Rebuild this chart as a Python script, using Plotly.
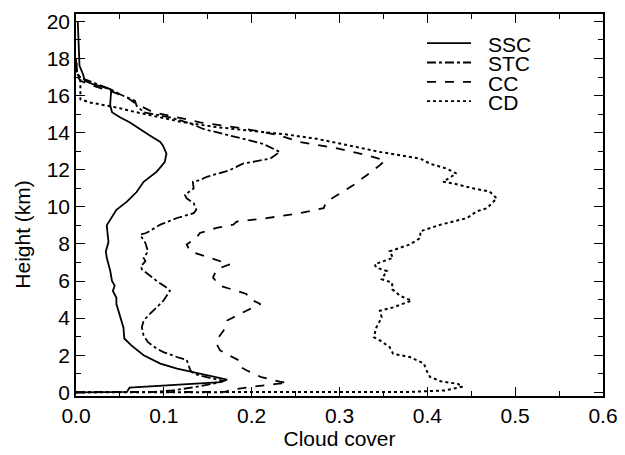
import plotly.graph_objects as go

# ---------------- data ----------------
ssc_h = [0.0, 0.02, 0.25, 0.4, 0.55, 0.68, 0.85, 0.98, 1.28, 1.55, 2.0, 2.53, 2.9, 3.5, 4.13,
         4.76, 5.1, 5.47, 5.75, 6.0, 6.54, 7.25, 7.6, 8.1, 9.0, 9.57, 9.84, 10.28, 10.8, 11.35,
         11.9, 12.42, 12.87, 13.3, 13.5, 13.85, 14.3, 14.56, 14.83, 15.1, 15.45, 15.6, 16.2,
         16.35, 16.6, 16.8, 17.15, 17.6, 18.8, 20.0]
ssc_v = [0.0, 0.058, 0.061, 0.12, 0.165, 0.172, 0.155, 0.141, 0.115, 0.096, 0.077, 0.063, 0.055,
         0.054, 0.050, 0.046, 0.046, 0.042, 0.044, 0.041, 0.039, 0.035, 0.034, 0.037, 0.035,
         0.0425, 0.046, 0.058, 0.069, 0.077, 0.092, 0.101, 0.103, 0.099, 0.096, 0.084, 0.069,
         0.061, 0.050, 0.041, 0.039, 0.039, 0.040, 0.039, 0.020, 0.010, 0.008, 0.004, 0.003, 0.002]

stc_h = [0.0, 0.02, 0.1, 0.27, 0.5, 0.62, 0.8, 1.0, 1.2, 1.46, 1.76, 1.85, 2.17, 2.35, 2.7, 3.06,
         3.5, 3.87, 4.13, 4.58, 4.94, 5.47, 5.65, 6.0, 6.36, 6.63, 6.8, 7.07, 7.25, 7.6, 8.05,
         8.5, 8.59, 9.04, 9.4, 9.66, 9.84, 10.2, 10.46, 10.64, 11.0, 11.35, 11.44, 11.62, 11.98,
         12.33, 12.6, 12.96, 13.4, 13.85, 14.2, 14.5, 14.83, 15.1, 15.45, 15.72, 16.07, 16.35,
         16.97, 17.3, 18.0]
stc_v = [0.0, 0.09, 0.11, 0.134, 0.16, 0.168, 0.15, 0.134, 0.13, 0.128, 0.126, 0.118, 0.0995,
         0.092, 0.082, 0.077, 0.075, 0.077, 0.082, 0.092, 0.0995, 0.107, 0.103, 0.092, 0.082,
         0.075, 0.074, 0.079, 0.077, 0.082, 0.079, 0.073, 0.080, 0.096, 0.115, 0.134, 0.137,
         0.134, 0.126, 0.124, 0.134, 0.133, 0.141, 0.149, 0.175, 0.19, 0.221, 0.232, 0.213,
         0.175, 0.145, 0.13, 0.107, 0.077, 0.069, 0.067, 0.050, 0.039, 0.005, 0.001, 0.0]

cc_h = [0.0, 0.02, 0.12, 0.3, 0.45, 0.5, 0.57, 0.83, 1.19, 1.37, 1.73, 2.26, 2.62, 2.8, 3.33,
        3.87, 4.4, 4.76, 5.03, 5.3, 5.47, 5.74, 6.18, 6.63, 6.9, 7.25, 7.6, 7.97, 8.32, 8.59,
        8.86, 9.04, 9.21, 9.39, 9.66, 9.93, 10.28, 10.82, 11.18, 11.44, 11.7, 12.25, 12.51,
        12.78, 13.13, 13.5, 13.85, 14.2, 14.56, 14.83, 15.1, 15.54, 15.9, 16.25, 16.52, 16.8,
        17.1, 18.0]
cc_v = [0.0, 0.17, 0.175, 0.2, 0.228, 0.241, 0.232, 0.21, 0.194, 0.187, 0.185, 0.164, 0.16,
        0.16, 0.168, 0.172, 0.194, 0.21, 0.198, 0.194, 0.183, 0.164, 0.156, 0.16, 0.175, 0.153,
        0.13, 0.126, 0.137, 0.141, 0.16, 0.179, 0.183, 0.217, 0.255, 0.282, 0.285, 0.304, 0.316,
        0.323, 0.331, 0.346, 0.352, 0.331, 0.3, 0.255, 0.232, 0.194, 0.141, 0.115, 0.088, 0.069,
        0.058, 0.039, 0.020, 0.005, 0.001, 0.0]

cd_h = [0.0, 0.02, 0.1, 0.3, 0.45, 0.6, 0.83, 1.19, 1.55, 1.9, 2.08, 2.44, 2.8, 2.97, 3.5, 4.04,
        4.4, 4.58, 4.94, 5.2, 5.56, 5.91, 6.1, 6.54, 6.72, 6.9, 7.25, 7.6, 7.97, 8.32, 8.68,
        9.04, 9.39, 9.75, 9.93, 10.46, 10.82, 11.0, 11.26, 11.35, 11.8, 12.06, 12.33, 12.6,
        12.78, 12.96, 13.3, 13.67, 13.9, 14.1, 14.3, 14.56, 14.92, 15.1, 15.36, 15.63, 15.8,
        16.35, 16.9, 17.2, 18.0]
cd_v = [0.0, 0.38, 0.42, 0.44, 0.435, 0.415, 0.403, 0.399, 0.396, 0.38, 0.361, 0.357, 0.346,
        0.339, 0.342, 0.348, 0.346, 0.361, 0.382, 0.369, 0.36, 0.36, 0.348, 0.354, 0.342, 0.34,
        0.361, 0.357, 0.38, 0.392, 0.392, 0.415, 0.445, 0.456, 0.468, 0.479, 0.471, 0.452,
        0.43, 0.418, 0.433, 0.422, 0.403, 0.392, 0.369, 0.346, 0.312, 0.274, 0.24, 0.2, 0.16,
        0.122, 0.084, 0.069, 0.046, 0.016, 0.005, 0.005, 0.005, 0.001, 0.0]

series_names = ["SSC", "STC", "CC", "CD"]
series_dash = ["solid", "dashdot", "dash", "dot"]
series_h = [ssc_h, stc_h, cc_h, cd_h]
series_v = [ssc_v, stc_v, cc_v, cd_v]

x_tick_vals = [0.0, 0.1, 0.2, 0.3, 0.4, 0.5, 0.6]
y_tick_vals = [0, 2, 4, 6, 8, 10, 12, 14, 16, 18, 20]

# ---------------- layout constants ----------------
# the page body has an 8px margin, so the figure is placed at (8, 8) in the window
OFF = 8
WIN_W, WIN_H = 625, 455
W, H = WIN_W - OFF, WIN_H - OFF
PLOT_L, PLOT_R, PLOT_T, PLOT_B = 76, 603, 10, 396   # target window pixel box
ML, MT = PLOT_L - OFF, PLOT_T - OFF
MR, MB = WIN_W - PLOT_R, WIN_H - PLOT_B
FONT = "Liberation Sans, Arial, Helvetica, sans-serif"
FS = 21

fig = go.Figure()
for name, dash, hh, vv in zip(series_names, series_dash, series_h, series_v):
    fig.add_trace(go.Scatter(x=vv, y=hh, mode="lines", name=name,
                             line=dict(color="black", width=1.8 if dash != "dot" else 2.0, dash=dash),
                             showlegend=False))

axis_common = dict(showgrid=False, zeroline=False, showline=True, linecolor="black",
                   linewidth=1.5, mirror="ticks", ticks="inside", ticklen=9, tickwidth=1.2,
                   tickcolor="black", ticklabeloverflow="allow",
                   tickfont=dict(family=FONT, size=FS, color="black"))

fig.update_xaxes(range=[0, 0.6], tickvals=x_tick_vals, tickformat=".1f",
                 minor=dict(dtick=0.05, ticks="inside", ticklen=5, tickwidth=1.1, tickcolor="black"),
                 title=dict(text="Cloud cover", font=dict(family=FONT, size=FS, color="black"),
                            standoff=2),
                 **axis_common)
fig.update_yaxes(range=[-0.2, 20.4], tickvals=y_tick_vals,
                 minor=dict(dtick=1, ticks="inside", ticklen=5, tickwidth=1.1, tickcolor="black"),
                 **axis_common)

# legend drawn as line samples + labels (paper coords from window pixel positions)
pw, ph = PLOT_R - PLOT_L, PLOT_B - PLOT_T
def px_x(p):
    return (p - PLOT_L) / pw
def px_y(p):
    return (PLOT_B - p) / ph

row_y = [39.5, 59, 78.5, 98]
for name, dash, ry in zip(series_names, series_dash, row_y):
    fig.add_shape(type="line", xref="paper", yref="paper",
                  x0=px_x(427), x1=px_x(471), y0=px_y(ry), y1=px_y(ry),
                  line=dict(color="black", width=1.8, dash=dash))
    fig.add_annotation(text=name, xref="paper", yref="paper", x=px_x(487), y=px_y(ry + 1),
                       xanchor="left", yanchor="middle", showarrow=False, height=18,
                       borderpad=0, valign="middle",
                       font=dict(family=FONT, size=FS, color="black"))

# y-axis title
fig.add_annotation(text="Height (km)", xref="paper", yref="paper", x=px_x(23), y=px_y(233),
                   xanchor="center", yanchor="middle", textangle=-90, showarrow=False,
                   font=dict(family=FONT, size=FS, color="black"))

fig.update_layout(width=W, height=H, margin=dict(l=ML, r=MR, t=MT, b=MB),
                  plot_bgcolor="white", paper_bgcolor="white", showlegend=False)

fig.write_html("out.html")
